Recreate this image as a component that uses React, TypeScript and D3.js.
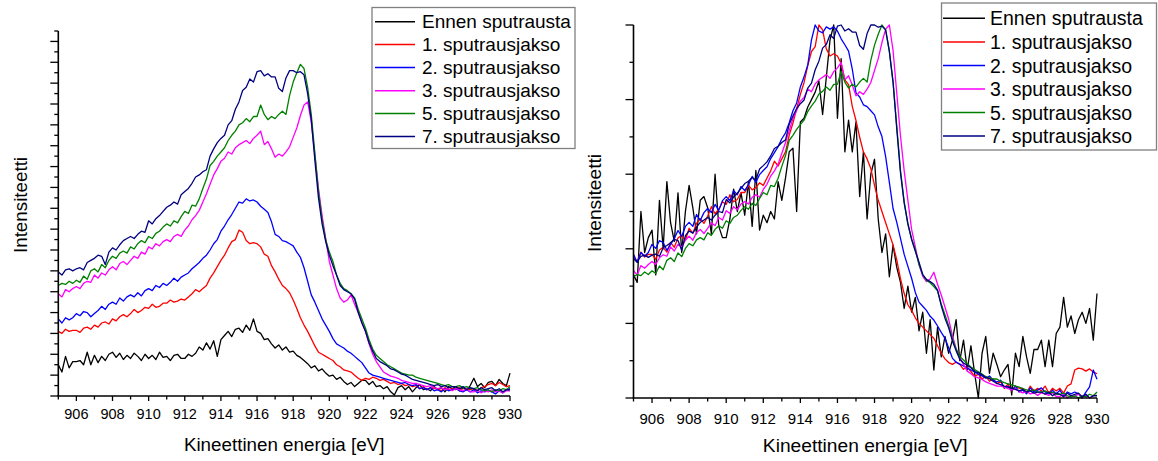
import React from "react";
import * as d3 from "d3";

// Kinetic energy grid (eV), 0.2 eV step from 905 to 930
const ENERGY: number[] = d3.range(126).map((i) => Math.round(9050 + i * 2) / 10);

const SERIES_NAMES = [
  "Ennen sputrausta",
  "1. sputrausjakso",
  "2. sputrausjakso",
  "3. sputrausjakso",
  "5. sputrausjakso",
  "7. sputrausjakso",
];
const SERIES_COLORS = ["#000000", "#ff0000", "#0000ff", "#ff00ff", "#008000", "#000080"];

const X_TICKS = d3.range(905, 931);
const X_LABEL = "Kineettinen energia [eV]";
const Y_LABEL = "Intensiteetti";

// ---------- Left panel: raw intensities (arbitrary units = minor tick steps)
const L_ENNEN = [
  3.0, 2.3, 3.8, 2.7, 3.3, 3.3, 3.4, 3.0, 4.2, 3.0, 3.9, 3.2, 3.8, 3.4, 4.0,
  4.2, 3.7, 4.1, 3.5, 3.9, 3.6, 4.1, 3.8, 3.4, 4.0, 3.6, 3.9, 3.5, 4.2, 3.7,
  3.8, 3.4, 3.9, 4.0, 3.6, 3.6, 4.0, 3.8, 4.1, 4.7, 4.4, 5.1, 4.5, 5.3, 3.8,
  5.4, 5.8, 6.2, 5.7, 6.4, 6.5, 6.1, 6.8, 6.3, 7.4, 6.2, 6.0, 5.4, 5.5, 5.0,
  4.6, 4.9, 4.4, 4.7, 4.2, 4.3, 3.9, 3.7, 3.4, 3.1, 2.7, 2.9, 2.4, 2.6, 2.2,
  1.9, 2.0, 1.6, 1.8, 1.4, 1.1, 1.3, 0.9, 1.2, 1.5, 1.5, 1.1, 1.4, 0.9, 1.0,
  0.7, 0.9, 0.4, 0.1, 0.8, 1.0, 0.6, 0.9, 0.4, 0.8, 1.1, 0.6, 0.7, 0.5, 0.9,
  0.6, 0.8, 0.4, 0.9, 0.7, 0.9, 0.5, 0.8, 0.6, 1.0, 1.7, 0.9, 1.2, 0.8, 1.3,
  1.4, 1.0, 1.6, 1.2, 1.0, 2.2,
];
const L_S1 = [
  6.2, 6.0, 6.4, 6.2, 6.3, 6.3, 6.1, 6.5, 6.6, 6.4, 6.8, 6.6, 7.0, 7.1, 6.9,
  7.4, 7.2, 7.6, 7.8, 7.6, 7.9, 8.3, 8.0, 8.2, 8.5, 8.4, 8.8, 8.5, 8.6, 8.9,
  8.9, 9.2, 9.0, 9.1, 9.3, 9.2, 9.5, 9.8, 10.2, 10.0, 10.3, 10.6, 11.3, 11.8, 12.4,
  13.0, 13.5, 14.2, 14.8, 15.0, 15.9, 15.7, 14.9, 14.6, 14.7, 14.6, 14.3, 13.6, 13.4, 12.5,
  11.9, 11.2, 10.6, 10.3, 9.9, 9.2, 8.4, 7.5, 6.8, 6.2, 5.5, 4.8, 4.2, 4.0, 3.8,
  3.6, 3.4, 3.0, 2.8, 2.5, 2.4, 2.3, 2.0, 1.7, 1.5, 1.7, 1.6, 1.8, 1.7, 1.5,
  1.6, 1.4, 1.2, 1.3, 1.1, 1.2, 1.0, 1.1, 0.9, 1.0, 0.7, 0.9, 0.6, 0.8, 0.7,
  0.7, 0.5, 0.8, 0.6, 0.7, 0.6, 0.8, 0.5, 0.7, 0.6, 0.7, 0.5, 0.8, 0.9, 1.1,
  1.2, 1.0, 1.3, 1.1, 0.9, 1.0,
];
const L_S2 = [
  7.4, 7.0, 7.5, 7.3, 7.5, 7.9, 7.7, 8.1, 8.0, 7.6, 7.9, 8.2, 8.6, 8.3, 8.8,
  9.0, 8.8, 9.4, 9.1, 9.5, 9.7, 9.5, 9.9, 9.6, 10.1, 10.3, 10.1, 10.6, 10.4, 10.8,
  10.6, 10.9, 11.3, 11.0, 11.4, 11.6, 11.8, 12.2, 12.5, 12.8, 13.2, 13.5, 14.0, 14.6, 15.0,
  15.8, 16.3, 16.9, 17.4, 18.0, 18.6, 18.5, 18.9, 18.7, 18.8, 18.6, 18.2, 17.9, 17.6, 16.7,
  15.5, 15.3, 14.9, 14.8, 14.6, 14.4, 13.8, 13.3, 12.3, 11.0, 9.7, 9.0, 8.2, 7.4, 6.8,
  6.2, 5.5, 5.0, 4.8, 4.6, 4.3, 4.1, 3.8, 3.5, 3.2, 2.7, 2.2, 2.0, 1.9, 1.8,
  1.7, 1.6, 1.5, 1.4, 1.3, 1.2, 1.3, 1.1, 1.0, 1.1, 0.7, 0.8, 0.6, 0.8, 0.5,
  0.6, 0.4, 0.7, 0.5, 0.6, 0.7, 0.5, 0.4, 0.6, 0.4, 0.6, 0.3, 0.5, 0.4, 0.5,
  0.4, 0.2, 0.5, 0.3, 0.6, 0.7,
];
const L_S3 = [
  9.8, 9.5, 10.2, 10.0, 10.3, 10.5, 10.3, 10.8, 11.0, 10.9, 11.6, 11.3, 11.8, 11.6, 12.1,
  12.4, 12.1, 12.7, 12.9, 12.6, 13.0, 13.4, 13.2, 13.8, 13.6, 14.3, 14.1, 14.6, 14.4, 14.8,
  15.0, 14.8, 15.3, 15.5, 15.3, 15.9, 16.3, 16.9, 17.3, 17.8, 18.6, 19.4, 20.3, 21.2, 21.8,
  22.5, 22.8, 23.4, 23.2, 23.8, 24.1, 24.3, 24.5, 24.2, 24.7, 25.0, 25.4, 24.1, 24.4, 23.7,
  22.9, 23.2, 23.0, 23.4, 23.9, 24.8, 25.7, 26.9, 27.9, 28.2, 26.3, 23.1, 19.9, 17.3, 15.1,
  12.9, 11.6, 10.3, 9.4, 9.0, 9.2, 9.7, 8.8, 8.0, 7.1, 6.2, 5.0, 4.0, 3.3, 2.8,
  2.3, 2.1, 1.9, 1.8, 1.7, 1.5, 1.4, 1.3, 1.2, 1.2, 1.1, 1.0, 0.9, 1.0, 0.8,
  0.7, 0.8, 0.6, 0.7, 0.5, 0.7, 0.6, 0.5, 0.7, 0.4, 0.4, 0.6, 0.3, 0.5, 0.4,
  0.6, 0.4, 0.5, 0.3, 0.5, 0.5,
];
const L_S5 = [
  10.6, 10.8, 10.7, 11.0, 10.8, 11.1, 10.9, 11.5, 11.2, 12.0, 12.2, 11.9, 12.6, 12.3, 13.0,
  13.4, 13.2, 13.7, 13.9, 13.7, 14.3, 14.1, 14.6, 14.9, 14.7, 15.3, 15.1, 15.6, 15.8, 16.2,
  16.5, 16.3, 16.8, 16.6, 17.2, 17.7, 17.5, 18.3, 18.2, 18.9, 19.9, 20.8, 22.1, 22.5, 23.0,
  23.4, 23.8, 24.5, 25.0, 25.4, 26.0, 26.2, 26.6, 26.3, 26.8, 26.8, 27.9, 27.0, 26.5, 26.8,
  26.6, 27.0, 27.3, 27.0, 28.8, 30.1, 31.0, 31.8, 31.4, 29.6, 27.0, 23.3, 19.6, 16.9, 15.0,
  13.8, 12.9, 11.6, 10.8, 10.3, 10.1, 9.8, 9.4, 8.3, 7.4, 6.5, 5.4, 4.5, 3.9, 3.6,
  3.3, 3.0, 2.8, 2.6, 2.4, 2.2, 2.1, 2.0, 2.0, 1.8, 1.7, 1.6, 1.5, 1.4, 1.3,
  1.2, 1.1, 1.0, 1.1, 0.9, 0.9, 1.0, 0.8, 0.9, 0.7, 0.7, 0.8, 0.6, 0.5, 0.6,
  0.4, 0.6, 0.5, 0.7, 0.6, 0.9,
];
const L_S7 = [
  11.9, 11.6, 12.1, 12.2, 12.0, 12.2, 12.3, 12.1, 12.8, 13.0, 13.2, 13.5, 13.4, 12.6, 13.8,
  14.2, 14.0, 14.5, 14.9, 15.1, 15.3, 15.1, 15.5, 15.8, 15.7, 16.8, 16.5, 17.0, 17.3, 17.7,
  18.1, 18.3, 18.6, 18.4, 19.3, 19.6, 19.9, 20.4, 21.0, 21.2, 21.5, 21.7, 23.0, 23.7, 24.3,
  24.7, 25.0, 26.0, 26.4, 27.5, 28.2, 29.3, 29.6, 30.4, 30.1, 31.1, 31.2, 30.7, 30.9, 30.6,
  30.6, 29.5, 29.2, 30.5, 31.2, 31.2, 31.0, 31.1, 30.8, 29.0, 26.5, 22.6, 19.0, 16.5, 14.8,
  13.5, 12.5, 11.6, 10.6, 10.2, 10.0, 9.8, 9.3, 8.0, 7.0, 6.2, 5.1, 4.3, 3.6, 3.3,
  3.1, 2.9, 2.6, 2.5, 2.3, 2.1, 2.0, 1.8, 1.6, 1.5, 1.4, 1.3, 1.2, 1.1, 1.0,
  1.1, 0.9, 1.0, 0.8, 0.9, 0.9, 0.7, 0.9, 0.6, 0.8, 0.7, 0.5, 0.8, 0.6, 0.7,
  0.8, 0.5, 0.7, 0.4, 0.6, 0.6,
];

// ---------- Right panel: normalised intensities (0..1)
const R_ENNEN = [
  0.33, 0.31, 0.5, 0.39, 0.43, 0.45, 0.33, 0.53, 0.4, 0.58, 0.47, 0.42, 0.55, 0.39, 0.5,
  0.57, 0.51, 0.44, 0.53, 0.54, 0.51, 0.44, 0.6, 0.46, 0.43, 0.43, 0.48, 0.56, 0.5, 0.55,
  0.49, 0.58, 0.46, 0.61, 0.45, 0.49, 0.47, 0.5, 0.48, 0.58, 0.53, 0.59, 0.66, 0.67, 0.5,
  0.74, 0.75, 0.78, 0.8, 0.82, 0.85, 0.76, 0.86, 0.96, 1.0, 0.75, 0.91, 0.66, 0.745, 0.66,
  0.74, 0.54, 0.66, 0.48, 0.6, 0.64, 0.48, 0.39, 0.44, 0.325, 0.41, 0.35, 0.31, 0.24, 0.3,
  0.23, 0.27, 0.18, 0.23, 0.12, 0.21, 0.075, 0.19, 0.11, 0.165, 0.12, 0.155, 0.21, 0.1, 0.155,
  0.075, 0.14, 0.066, 0.0, 0.12, 0.165, 0.066, 0.12, 0.09, 0.057, 0.075, 0.09, 0.008, 0.12, 0.084,
  0.165, 0.11, 0.066, 0.13, 0.13, 0.155, 0.084, 0.155, 0.084, 0.173, 0.19, 0.27, 0.19, 0.22, 0.173,
  0.21, 0.23, 0.2, 0.24, 0.155, 0.28,
];
const R_S1 = [
  0.378, 0.365, 0.391, 0.378, 0.385, 0.385, 0.372, 0.397, 0.404, 0.391, 0.417, 0.404, 0.429, 0.436, 0.423,
  0.455, 0.442, 0.468, 0.481, 0.468, 0.487, 0.513, 0.494, 0.506, 0.526, 0.519, 0.545, 0.526, 0.532, 0.551,
  0.551, 0.57, 0.558, 0.564, 0.577, 0.57, 0.59, 0.609, 0.635, 0.622, 0.641, 0.66, 0.705, 0.737, 0.776,
  0.814, 0.846, 0.891, 0.929, 0.942, 1.0, 0.987, 0.936, 0.917, 0.923, 0.917, 0.897, 0.853, 0.84, 0.782,
  0.744, 0.699, 0.66, 0.641, 0.615, 0.57, 0.53, 0.5, 0.47, 0.44, 0.41, 0.37, 0.32, 0.28, 0.25,
  0.235, 0.215, 0.2, 0.19, 0.18, 0.17, 0.16, 0.14, 0.12, 0.105, 0.095, 0.09, 0.096, 0.09, 0.077,
  0.083, 0.071, 0.058, 0.064, 0.051, 0.058, 0.045, 0.051, 0.038, 0.045, 0.026, 0.038, 0.019, 0.032, 0.026,
  0.026, 0.013, 0.032, 0.019, 0.026, 0.019, 0.032, 0.013, 0.026, 0.019, 0.026, 0.013, 0.032, 0.038, 0.075,
  0.08, 0.078, 0.072, 0.078, 0.07, 0.065,
];
const R_S2 = [
  0.385, 0.364, 0.39, 0.38, 0.39, 0.412, 0.401, 0.422, 0.417, 0.396, 0.412, 0.428, 0.449, 0.433, 0.46,
  0.471, 0.46, 0.492, 0.476, 0.497, 0.508, 0.497, 0.519, 0.503, 0.529, 0.54, 0.529, 0.556, 0.545, 0.567,
  0.556, 0.572, 0.594, 0.578, 0.599, 0.61, 0.62, 0.642, 0.658, 0.674, 0.695, 0.711, 0.738, 0.77, 0.791,
  0.834, 0.861, 0.893, 0.96, 1.0, 0.984, 0.979, 0.995, 0.989, 0.995, 0.984, 0.963, 0.947, 0.93, 0.882,
  0.818, 0.807, 0.786, 0.781, 0.77, 0.759, 0.727, 0.701, 0.647, 0.578, 0.508, 0.471, 0.428, 0.385, 0.353,
  0.321, 0.283, 0.257, 0.246, 0.235, 0.219, 0.209, 0.193, 0.176, 0.16, 0.134, 0.107, 0.096, 0.091, 0.086,
  0.08, 0.075, 0.07, 0.064, 0.059, 0.053, 0.059, 0.048, 0.043, 0.048, 0.027, 0.032, 0.021, 0.032, 0.016,
  0.021, 0.011, 0.027, 0.016, 0.021, 0.027, 0.016, 0.011, 0.021, 0.011, 0.021, 0.005, 0.016, 0.011, 0.016,
  0.011, 0.0, 0.016, 0.03, 0.075, 0.05,
];
const R_S3 = [
  0.341, 0.33, 0.355, 0.348, 0.358, 0.366, 0.358, 0.376, 0.384, 0.38, 0.405, 0.394, 0.412, 0.405, 0.423,
  0.434, 0.423, 0.444, 0.452, 0.441, 0.455, 0.47, 0.462, 0.484, 0.477, 0.502, 0.495, 0.513, 0.505, 0.52,
  0.527, 0.52, 0.538, 0.545, 0.538, 0.559, 0.573, 0.595, 0.609, 0.627, 0.656, 0.685, 0.717, 0.749, 0.771,
  0.796, 0.806, 0.828, 0.821, 0.842, 0.853, 0.86, 0.867, 0.857, 0.875, 0.885, 0.9, 0.853, 0.864, 0.839,
  0.81, 0.821, 0.814, 0.828, 0.846, 0.878, 0.91, 0.953, 0.989, 1.0, 0.932, 0.817, 0.703, 0.609, 0.53,
  0.452, 0.405, 0.358, 0.326, 0.312, 0.319, 0.337, 0.305, 0.276, 0.244, 0.211, 0.168, 0.133, 0.108, 0.09,
  0.072, 0.065, 0.057, 0.054, 0.05, 0.043, 0.039, 0.036, 0.032, 0.032, 0.029, 0.025, 0.022, 0.025, 0.018,
  0.014, 0.018, 0.011, 0.014, 0.007, 0.014, 0.011, 0.007, 0.014, 0.004, 0.004, 0.011, 0.0, 0.007, 0.004,
  0.011, 0.004, 0.007, 0.0, 0.007, 0.007,
];
const R_S5 = [
  0.325, 0.331, 0.328, 0.338, 0.331, 0.341, 0.334, 0.354, 0.344, 0.369, 0.376, 0.366, 0.389, 0.379, 0.401,
  0.414, 0.408, 0.424, 0.43, 0.424, 0.443, 0.436, 0.452, 0.462, 0.455, 0.475, 0.468, 0.484, 0.49, 0.503,
  0.513, 0.506, 0.522, 0.516, 0.535, 0.551, 0.545, 0.57, 0.567, 0.589, 0.621, 0.65, 0.691, 0.704, 0.72,
  0.733, 0.745, 0.768, 0.783, 0.796, 0.815, 0.822, 0.834, 0.825, 0.841, 0.841, 0.876, 0.847, 0.831, 0.841,
  0.834, 0.847, 0.857, 0.847, 0.905, 0.946, 0.975, 1.0, 0.987, 0.93, 0.847, 0.729, 0.611, 0.526, 0.465,
  0.427, 0.398, 0.357, 0.331, 0.315, 0.309, 0.299, 0.287, 0.252, 0.223, 0.194, 0.159, 0.131, 0.111, 0.102,
  0.092, 0.083, 0.076, 0.07, 0.064, 0.057, 0.054, 0.051, 0.051, 0.045, 0.041, 0.038, 0.035, 0.032, 0.029,
  0.025, 0.022, 0.019, 0.022, 0.016, 0.016, 0.019, 0.013, 0.016, 0.01, 0.01, 0.013, 0.006, 0.003, 0.006,
  0.0, 0.006, 0.003, 0.01, 0.006, 0.016,
];
const R_S7 = [
  0.373, 0.364, 0.38, 0.383, 0.377, 0.383, 0.386, 0.38, 0.403, 0.409, 0.416, 0.425, 0.422, 0.396, 0.435,
  0.448, 0.442, 0.458, 0.471, 0.477, 0.484, 0.477, 0.49, 0.5, 0.497, 0.532, 0.523, 0.539, 0.549, 0.562,
  0.575, 0.581, 0.591, 0.584, 0.614, 0.623, 0.633, 0.649, 0.669, 0.675, 0.685, 0.692, 0.734, 0.756, 0.776,
  0.789, 0.799, 0.831, 0.844, 0.88, 0.903, 0.938, 0.948, 0.974, 0.964, 0.997, 1.0, 0.984, 0.99, 0.981,
  0.981, 0.945, 0.935, 0.977, 1.0, 1.0, 0.994, 0.997, 0.987, 0.929, 0.847, 0.721, 0.604, 0.523, 0.468,
  0.425, 0.393, 0.364, 0.331, 0.318, 0.312, 0.305, 0.289, 0.247, 0.214, 0.188, 0.153, 0.127, 0.104, 0.094,
  0.088, 0.081, 0.071, 0.068, 0.062, 0.055, 0.052, 0.045, 0.039, 0.036, 0.032, 0.029, 0.026, 0.023, 0.019,
  0.023, 0.016, 0.019, 0.013, 0.016, 0.016, 0.01, 0.016, 0.006, 0.013, 0.01, 0.003, 0.013, 0.006, 0.01,
  0.013, 0.003, 0.01, 0.0, 0.006, 0.006,
];

const LEFT_SERIES = [L_ENNEN, L_S1, L_S2, L_S3, L_S5, L_S7];
const RIGHT_SERIES = [R_ENNEN, R_S1, R_S2, R_S3, R_S5, R_S7];

const FONT = "'Liberation Sans', Arial, Helvetica, sans-serif";

type PanelCfg = {
  xr: [number, number];
  yr: [number, number];
  ymax: number;
  yTicks: { v: number; major: boolean }[];
  tickFs: number;
  titleFs: number;
  legendFs: number;
  tickLabelY: number;
  xTitleY: number;
  yTitleX: number;
  yTitleY: number;
  legend: { x: number; y: number; w: number; h: number; l1: number; l2: number; tx: number; rows: number[] };
};

const LEFT_CFG: PanelCfg = {
  xr: [58.3, 510],
  yr: [396, 31],
  ymax: 35,
  yTicks: d3.range(0, 36).map((v) => ({ v, major: v % 2 === 0 })),
  tickFs: 14.5,
  titleFs: 18.8,
  legendFs: 19,
  tickLabelY: 418.8,
  xTitleY: 450.5,
  yTitleX: 27,
  yTitleY: 205,
  legend: { x: 372, y: 7.5, w: 203, h: 141, l1: 375, l2: 415, tx: 422, rows: [21.7, 44.5, 67.5, 90.7, 113.5, 136.5] },
};

const RIGHT_CFG: PanelCfg = {
  xr: [633.5, 1097],
  yr: [398, 25],
  ymax: 1,
  yTicks: d3.range(0, 11).map((i) => ({ v: i / 10, major: i % 2 === 0 })),
  tickFs: 15,
  titleFs: 19.2,
  legendFs: 19.5,
  tickLabelY: 423.5,
  xTitleY: 451.5,
  yTitleX: 601,
  yTitleY: 203,
  legend: { x: 941.5, y: 3, w: 215, h: 147, l1: 943, l2: 985, tx: 990, rows: [18.3, 42, 65.5, 89, 112.5, 136] },
};

function Panel({ cfg, series }: { cfg: PanelCfg; series: number[][] }) {
  const x = d3.scaleLinear().domain([905, 930]).range(cfg.xr);
  const y = d3.scaleLinear().domain([0, cfg.ymax]).range(cfg.yr);
  const line = d3
    .line<number>()
    .x((_, i) => x(ENERGY[i]))
    .y((d) => y(d));
  const x0 = cfg.xr[0];
  const y0 = cfg.yr[0];
  const lg = cfg.legend;
  return (
    <g>
      {series.map((s, i) => (
        <path
          key={i}
          d={line(s) || ""}
          fill="none"
          stroke={SERIES_COLORS[i]}
          strokeWidth={1.3}
          strokeLinejoin="round"
        />
      ))}
      {/* axes */}
      <line x1={x0} y1={y0} x2={x0} y2={cfg.yr[1]} stroke="#000" strokeWidth={1.6} />
      <line x1={x0 - 0.8} y1={y0} x2={cfg.xr[1]} y2={y0} stroke="#000" strokeWidth={1.6} />
      {cfg.yTicks.map((t, i) => (
        <line
          key={"yt" + i}
          x1={x0 - (t.major ? 8 : 4)}
          x2={x0}
          y1={y(t.v)}
          y2={y(t.v)}
          stroke="#000"
          strokeWidth={1.3}
        />
      ))}
      {X_TICKS.map((v) => (
        <line
          key={"xt" + v}
          x1={x(v)}
          x2={x(v)}
          y1={y0}
          y2={y0 + (v % 2 === 0 ? 5 : 3.5)}
          stroke="#000"
          strokeWidth={1.3}
        />
      ))}
      {X_TICKS.filter((v) => v % 2 === 0).map((v) => (
        <text
          key={"xl" + v}
          x={x(v)}
          y={cfg.tickLabelY}
          textAnchor="middle"
          fontFamily={FONT}
          fontSize={cfg.tickFs}
          fill="#000"
        >
          {v}
        </text>
      ))}
      <text
        x={(cfg.xr[0] + cfg.xr[1]) / 2}
        y={cfg.xTitleY}
        textAnchor="middle"
        fontFamily={FONT}
        fontSize={cfg.titleFs}
        fill="#000"
      >
        {X_LABEL}
      </text>
      <text
        transform={`translate(${cfg.yTitleX},${cfg.yTitleY}) rotate(-90)`}
        textAnchor="middle"
        fontFamily={FONT}
        fontSize={cfg.titleFs}
        fill="#000"
      >
        {Y_LABEL}
      </text>
      {/* legend */}
      <rect x={lg.x} y={lg.y} width={lg.w} height={lg.h} fill="#fff" stroke="#808080" strokeWidth={1.3} />
      {SERIES_NAMES.map((name, i) => (
        <g key={"lg" + i}>
          <line x1={lg.l1} x2={lg.l2} y1={lg.rows[i]} y2={lg.rows[i]} stroke={SERIES_COLORS[i]} strokeWidth={1.4} />
          <text
            x={lg.tx}
            y={lg.rows[i]}
            dominantBaseline="central"
            fontFamily={FONT}
            fontSize={cfg.legendFs}
            fill="#000"
          >
            {name}
          </text>
        </g>
      ))}
    </g>
  );
}

export default function App() {
  return (
    <svg
      width={1158}
      height={461}
      viewBox="0 0 1158 461"
      style={{ position: "absolute", left: 0, top: 0, display: "block", background: "#fff" }}
    >
      <rect x={0} y={0} width={1158} height={461} fill="#fff" />
      <Panel cfg={LEFT_CFG} series={LEFT_SERIES} />
      <Panel cfg={RIGHT_CFG} series={RIGHT_SERIES} />
    </svg>
  );
}
